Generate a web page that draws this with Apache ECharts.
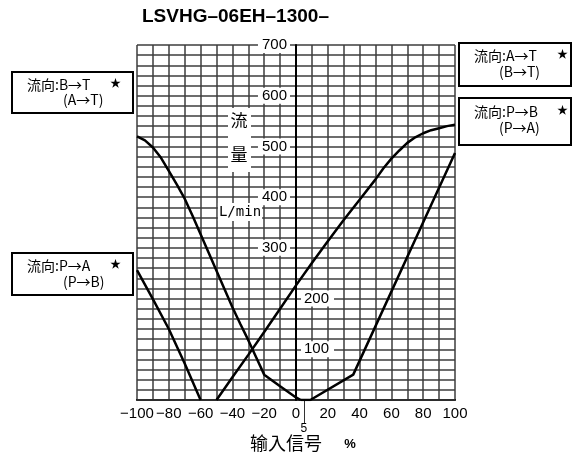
<!DOCTYPE html>
<html>
<head>
<meta charset="utf-8">
<script src="https://cdn.jsdelivr.net/npm/echarts@6/dist/echarts.min.js"></script>
<style>
  html, body { margin: 0; padding: 0; background: #fff; }
  #chart { width: 574px; height: 454px; }
</style>
</head>
<body>
<div id="chart"></div>
<script>
// Tick labels
const xTickValues = [-100, -80, -60, -40, -20, 0, 20, 40, 60, 80, 100];
const yTicksLeftSide = [300, 400, 500, 600, 700];
const yTicksRightSide = [100, 200];
const markerTick = [5];

// Flow curves: input signal (%) vs flow (L/min)
const signalBT = [-100, -95, -90, -85, -80, -75, -70, -65, -60, -55, -50, -45, -40, -35, -30, -25, -20, -10, 0, 3];
const flowBT   = [520, 512, 498, 478, 452, 425, 397, 363, 327, 291, 255, 219, 183, 150, 118, 84, 50, 27, 5, 0];

const signalPA = [-100, -90, -80, -70, -60];
const flowPA   = [256, 199, 140, 72, 0];

const signalAT = [-50, -40, -30, -20, -10, 0, 10, 20, 30, 40, 50, 55, 60, 65, 70, 75, 80, 85, 90, 95, 100];
const flowAT   = [0, 45, 89, 134, 180, 226, 270, 313, 355, 395, 435, 457, 476, 492, 507, 518, 526, 532, 536, 540, 543];

const signalPB = [3, 9, 36, 100];
const flowPB   = [0, 0, 50, 487];

const pairs = (xs, ys) => xs.map((x, i) => [x, ys[i]]);

const sans = "'Liberation Sans', Arial, sans-serif";
const cjk = "'Noto Sans CJK JP', 'Noto Sans CJK SC', sans-serif";

const chart = echarts.init(document.getElementById('chart'), null, { renderer: 'canvas' });

const curve = (name, xs, ys) => ({
  name,
  type: 'line',
  xAxisIndex: 0,
  yAxisIndex: 0,
  data: pairs(xs, ys),
  showSymbol: false,
  smooth: false,
  lineStyle: { color: '#000', width: 2.5 },
  z: 5
});

// Boxed flow-direction notes
function noteBox(x, y, w, h, line1, line2, dx1, dx2, dy1, dy2) {
  return {
    type: 'group',
    children: [
      { type: 'rect', shape: { x, y, width: w, height: h },
        style: { fill: '#fff', stroke: '#000', lineWidth: 2 } },
      { type: 'text', x: x + dx1, y: y + dy1,
        style: { text: line1, font: '14px ' + cjk, fill: '#000', verticalAlign: 'middle' } },
      { type: 'text', x: x + dx1 + 83, y: y + dy1 - 2,
        style: { text: '★', font: '11px ' + cjk, fill: '#000', verticalAlign: 'middle' } },
      { type: 'text', x: x + dx2, y: y + dy2,
        style: { text: line2, font: '14px ' + cjk, fill: '#000', verticalAlign: 'middle' } }
    ]
  };
}

const gridLine = { show: true, lineStyle: { color: '#3c3c3c', width: 1.5 } };

const option = {
  animation: false,
  backgroundColor: '#fff',
  title: {
    text: 'LSVHG–06EH–1300–',
    left: 142,
    top: 7,
    padding: 0,
    textStyle: { fontSize: 19, fontWeight: 'bold', color: '#000', fontFamily: sans }
  },
  grid: { left: 137, top: 45, width: 318, height: 355, containLabel: false },
  xAxis: [
    {
      type: 'value', min: -100, max: 100, interval: 10,
      axisLine: { show: true, onZero: false, lineStyle: { color: '#000', width: 2 } },
      axisTick: { show: false },
      splitLine: gridLine,
      axisLabel: {
        customValues: xTickValues,
        showMinLabel: true,
        showMaxLabel: true,
        hideOverlap: false,
        margin: 6,
        color: '#000',
        fontSize: 15,
        fontFamily: sans,
        formatter: v => String(v).replace('-', '−')
      }
    },
    {
      type: 'value', min: -100, max: 100, position: 'bottom',
      axisLine: { show: false },
      splitLine: { show: false },
      axisTick: { show: true, customValues: markerTick, length: 23, lineStyle: { color: '#333', width: 1 } },
      axisLabel: { customValues: markerTick, margin: 23, color: '#000', fontSize: 12, fontFamily: sans }
    }
  ],
  yAxis: [
    {
      type: 'value', min: 0, max: 700, interval: 20,
      position: 'left', offset: -159,
      axisLine: { show: true, lineStyle: { color: '#000', width: 2 } },
      axisTick: { show: false },
      splitLine: gridLine,
      axisLabel: {
        customValues: yTicksLeftSide,
        showMaxLabel: true,
        hideOverlap: false,
        margin: 6,
        color: '#000',
        fontSize: 15,
        fontFamily: sans,
        backgroundColor: '#fff',
        padding: [1, 3, 0, 4]
      },
      z: 3
    },
    {
      type: 'value', min: 0, max: 700, interval: 20,
      position: 'left', offset: -159,
      axisLine: { show: false },
      axisTick: { show: false },
      splitLine: { show: false },
      axisLabel: {
        inside: true,
        customValues: yTicksRightSide,
        margin: 5,
        color: '#000',
        fontSize: 15,
        fontFamily: sans,
        backgroundColor: '#fff',
        padding: [1, 5, 0, 3]
      },
      z: 3
    }
  ],
  series: [
    curve('B→T', signalBT, flowBT),
    curve('P→A', signalPA, flowPA),
    curve('A→T', signalAT, flowAT),
    curve('P→B', signalPB, flowPB)
  ],
  graphic: [
    // vertical axis unit label
    { type: 'rect', shape: { x: 228, y: 108, width: 23, height: 64 }, style: { fill: '#fff' }, z: 10 },
    { type: 'text', x: 239, y: 121, z: 11,
      style: { text: '流', font: '17px ' + cjk, fill: '#000', align: 'center', verticalAlign: 'middle' } },
    { type: 'text', x: 239, y: 155, z: 11,
      style: { text: '量', font: '17px ' + cjk, fill: '#000', align: 'center', verticalAlign: 'middle' } },
    { type: 'text', x: 240, y: 212, z: 11,
      style: { text: 'L/min', font: '14px "DejaVu Sans Mono", monospace', fill: '#000', align: 'center', verticalAlign: 'middle',
               backgroundColor: '#fff', padding: [2, 1] } },
    // horizontal axis name
    { type: 'text', x: 286, y: 443,
      style: { text: '输入信号', font: '18px ' + cjk, fill: '#000', align: 'center', verticalAlign: 'middle' } },
    { type: 'text', x: 350, y: 444,
      style: { text: '%', font: 'bold 13px ' + sans, fill: '#000', align: 'center', verticalAlign: 'middle' } },
    // flow direction notes
    noteBox(12, 72, 121, 41, '流向:B→T', '(A→T)', 15, 51, 13, 28),
    noteBox(459, 43, 112, 43, '流向:A→T', '(B→T)', 15, 40, 13, 29),
    noteBox(459, 98, 112, 47, '流向:P→B', '(P→A)', 15, 40, 14, 30),
    noteBox(12, 253, 121, 42, '流向:P→A', '(P→B)', 15, 51, 13, 29)
  ]
};

chart.setOption(option);
</script>
</body>
</html>
